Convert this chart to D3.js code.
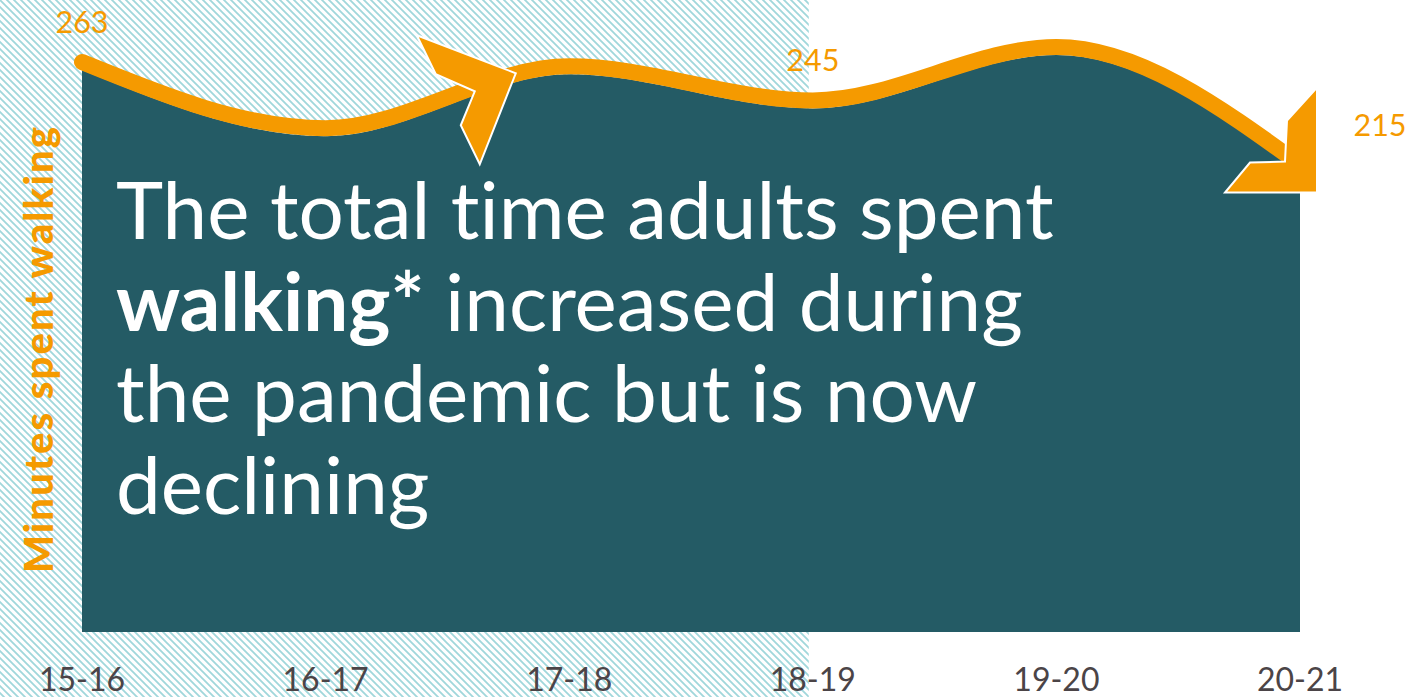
<!DOCTYPE html>
<html>
<head>
<meta charset="utf-8">
<script src="https://cdn.jsdelivr.net/npm/d3@7"></script>
<style>
  html, body { margin: 0; padding: 0; background: #ffffff; }
  svg { display: block; }
  text { font-family: Lato, "Open Sans", sans-serif; font-variant-ligatures: none; }
</style>
</head>
<body>
<svg id="chart" width="1411" height="697"></svg>
<script>
// Minutes spent walking per adult, by survey year
const years = ["15-16", "16-17", "17-18", "18-19", "19-20", "20-21"];
const minutes = [263, 232, 261, 245, 270, 215];
// Years whose value is printed above the line, with a horizontal nudge
const labelledYears = ["15-16", "18-19", "20-21"];
const labelNudge = [0, 0, 80];
const yTitle = "Minutes spent walking";
const headline = [
  [{ t: "The total time adults spent", b: false }],
  [{ t: "walking*", b: true }, { t: " increased during", b: false }],
  [{ t: "the pandemic but is now", b: false }],
  [{ t: "declining", b: false }]
];

const W = 1411, H = 697;
const teal = "#245b65", orange = "#f59a00", axisInk = "#4b4447";
const lineLift = 8;   // the orange line rides on top of the area

const svg = d3.select("#chart");

const x = d3.scalePoint().domain(years).range([82, 1300]);
const y = d3.scaleLinear().domain([0, 263]).range([632, 70]);
const step = x.step();

// Hatched backdrop over the earlier years
const defs = svg.append("defs");
const pat = defs.append("pattern")
  .attr("id", "hatch").attr("patternUnits", "userSpaceOnUse")
  .attr("width", 7).attr("height", 7);
pat.append("rect").attr("width", 7).attr("height", 7).attr("fill", "#ffffff");
pat.append("path")
  .attr("d", "M-1,-1 L8,8 M-8,-1 L1,8 M6,-1 L15,8")
  .attr("stroke", "#a0d7db").attr("stroke-width", 1.8);

svg.append("rect")
  .attr("x", 0).attr("y", 0)
  .attr("width", x("18-19") - 4).attr("height", H)
  .attr("fill", "url(#hatch)");

const rows = years.map((yr, i) => ({ yr, v: minutes[i] }));

// Area
const area = d3.area()
  .x(d => x(d.yr)).y0(y(0)).y1(d => y(d.v))
  .curve(d3.curveMonotoneX);
svg.append("path").datum(rows)
  .attr("d", area).attr("fill", teal);

// Orange trend line
const line = d3.line()
  .x(d => x(d.yr)).y(d => y(d.v) - lineLift)
  .curve(d3.curveMonotoneX);
svg.append("path").datum(rows)
  .attr("d", line)
  .attr("fill", "none").attr("stroke", orange)
  .attr("stroke-width", 16).attr("stroke-linecap", "round");

// Arrowheads along the line
function arrowhead(ax, ay, pts) {
  svg.append("polygon")
    .attr("points", pts.map(p => [ax + p[0], ay + p[1]].join(",")).join(" "))
    .attr("fill", orange).attr("stroke", "#ffffff")
    .attr("stroke-width", 2).attr("stroke-linejoin", "miter");
}
const midV = (minutes[1] + minutes[2]) / 2;
arrowhead(x("16-17") + 0.6 * step, y(midV) - lineLift,
  [[-55, -62], [44, -24], [8, 67], [-11, 28], [3, -6], [-36, -23]]);
const last = rows[rows.length - 1];
arrowhead(x(last.yr), y(last.v) - lineLift,
  [[17, -77], [17, 28], [-75, 28], [-50, -2], [-15, -3], [-13, -44]]);

// Value labels
svg.append("g").selectAll("text")
  .data(labelledYears)
  .join("text")
  .attr("x", (yr, i) => x(yr) + labelNudge[i])
  .attr("y", yr => y(minutes[years.indexOf(yr)]) - lineLift - 29)
  .attr("text-anchor", "middle")
  .attr("font-size", 30.5)
  .attr("fill", orange)
  .text(yr => minutes[years.indexOf(yr)]);

// Year labels
svg.append("g").selectAll("text")
  .data(years)
  .join("text")
  .attr("x", d => x(d))
  .attr("y", 691)
  .attr("text-anchor", "middle")
  .attr("font-size", 32)
  .attr("fill", axisInk)
  .text(d => d);

// Axis title
svg.append("text")
  .attr("transform", "translate(53,350) rotate(-90)")
  .attr("text-anchor", "middle")
  .attr("font-size", 40)
  .attr("font-weight", 900)
  .attr("textLength", 446)
  .attr("lengthAdjust", "spacing")
  .attr("fill", orange)
  .text(yTitle);

// Headline inside the area
const head = svg.append("text")
  .attr("x", 116).attr("y", 239)
  .attr("font-size", 80)
  .attr("fill", "#ffffff");
headline.forEach((ln, i) => {
  ln.forEach((seg, j) => {
    const ts = head.append("tspan")
      .attr("font-weight", seg.b ? 700 : 400)
      .style("white-space", "pre")
      .text(seg.t);
    if (j === 0) ts.attr("x", 116).attr("dy", i === 0 ? 0 : 91.5);
  });
});
</script>
</body>
</html>
